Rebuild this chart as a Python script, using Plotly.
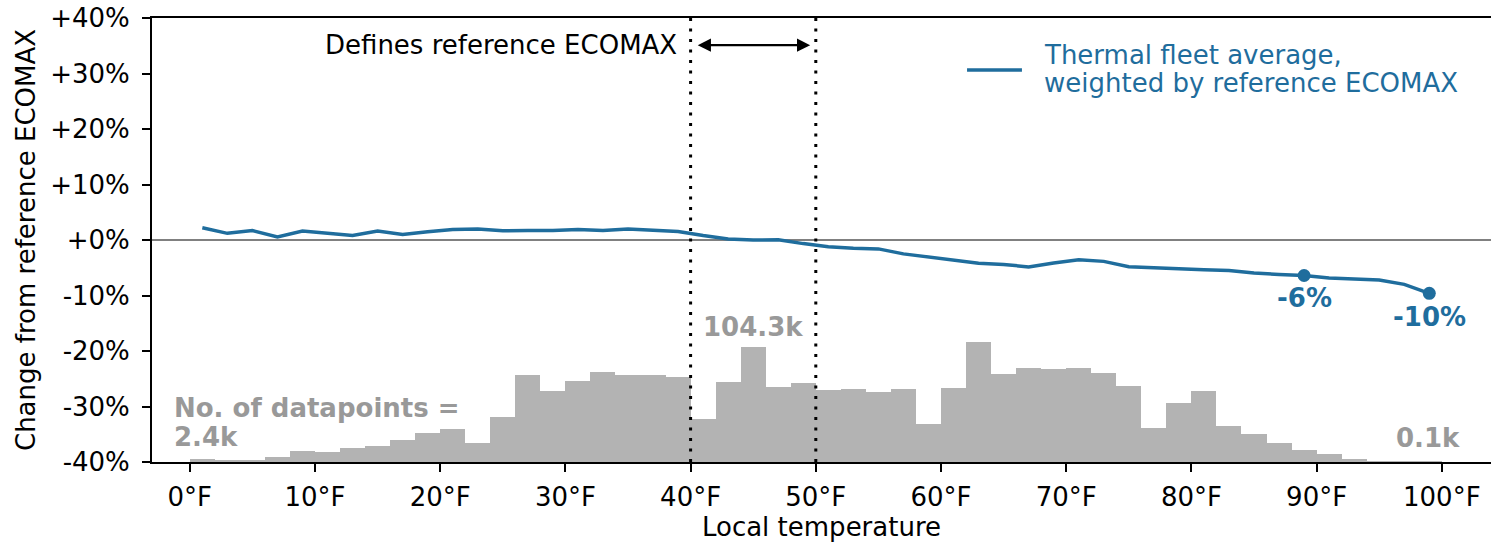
import plotly.graph_objects as go

# ---- data ----
temps = [1, 3, 5, 7, 9, 11, 13, 15, 17, 19, 21, 23, 25, 27, 29, 31, 33, 35, 37, 39,
         41, 43, 45, 47, 49, 51, 53, 55, 57, 59, 61, 63, 65, 67, 69, 71, 73, 75, 77, 79,
         81, 83, 85, 87, 89, 91, 93, 95, 97, 99]
change_pct = [2.2, 1.2, 1.7, 0.55, 1.6, 1.15, 0.8, 1.6, 1.0, 1.5,
              1.9, 2.0, 1.65, 1.7, 1.7, 1.9, 1.7, 2.0, 1.7, 1.55,
              0.8, 0.2, 0.0, 0.05, -0.65, -1.2, -1.5, -1.6, -2.5, -3.05,
              -3.65, -4.2, -4.4, -4.85, -4.15, -3.55, -3.85, -4.8, -5.0, -5.1,
              -5.35, -5.5, -5.95, -6.2, -6.4, -6.85, -7.0, -7.2, -8.0, -9.6]
counts_k = [2.4, 2.2, 2.0, 4.8, 9.8, 9.2, 12.6, 14.8, 19.9, 26.0,
            29.9, 16.9, 41.0, 78.7, 64.5, 73.6, 81.7, 78.7, 78.7, 77.2,
            38.6, 72.4, 104.3, 68.1, 71.2, 65.2, 66.1, 63.4, 66.1, 34.1,
            67.0, 108.3, 79.6, 85.1, 84.2, 85.1, 80.3, 68.5, 30.5, 53.1,
            64.3, 32.9, 25.1, 17.2, 11.2, 7.0, 2.7, 0.5, 0.3, 0.1]
bin_width = 2
ref_low, ref_high = 40, 50
x_ticks = [0, 10, 20, 30, 40, 50, 60, 70, 80, 90, 100]
x_ticktext = ["0°F", "10°F", "20°F", "30°F", "40°F", "50°F", "60°F", "70°F", "80°F", "90°F", "100°F"]
y_ticks = [40, 30, 20, 10, 0, -10, -20, -30, -40]
y_ticktext = ["+40%", "+30%", "+20%", "+10%", "+0%", "-10%", "-20%", "-30%", "-40%"]
marked_temps = [89, 99]
marked_labels = ["-6%", "-10%"]
legend_lines = ["Thermal fleet average,", "weighted by reference ECOMAX"]

BLUE = "#1f6d9d"
GRAY_BAR = "#b3b3b3"
GRAY_TXT = "#999999"
FONT = "DejaVu Sans"
FS = 26

fig = go.Figure()

# histogram of datapoints (hidden axis y)
fig.add_trace(go.Bar(x=temps, y=counts_k, width=bin_width, marker=dict(color=GRAY_BAR, line=dict(width=0)),
                     yaxis="y", xaxis="x", showlegend=False, hoverinfo="skip"))

# main line (visible axis y2)
fig.add_trace(go.Scatter(x=temps, y=change_pct, mode="lines", line=dict(color=BLUE, width=3.5),
                         yaxis="y2", showlegend=False,
                         name="Thermal fleet average, weighted by reference ECOMAX"))

mk_y = [change_pct[temps.index(t)] for t in marked_temps]
fig.add_trace(go.Scatter(x=marked_temps, y=mk_y, mode="markers", marker=dict(color=BLUE, size=13),
                         yaxis="y2", showlegend=False))

shapes = [
    dict(type="line", xref="paper", x0=0, x1=1, yref="y2", y0=0, y1=0,
         line=dict(color="#808080", width=2.2), layer="below"),
    # legend sample line
    dict(type="line", xref="paper", x0=0.6087, x1=0.6497, yref="paper", y0=0.8829, y1=0.8829,
         line=dict(color=BLUE, width=3.5)),
]
for xv in (ref_low, ref_high):
    shapes.append(dict(type="line", xref="x", x0=xv, x1=xv, yref="paper", y0=0, y1=1,
                       line=dict(color="black", width=3, dash="3px,7.5px"), layer="above"))

annotations = [
    dict(x=ref_low, y=35.1, xref="x", yref="y2", text="Defines reference ECOMAX", showarrow=False,
         xanchor="right", xshift=-12, font=dict(family=FONT, size=FS, color="black")),
    dict(x=ref_high - 0.45, y=35.1, ax=ref_low + 0.45, ay=35.1, xref="x", yref="y2", axref="x", ayref="y2",
         text="", showarrow=True, arrowside="end+start", arrowhead=2, arrowsize=1.2, arrowwidth=2.2,
         arrowcolor="black", standoff=0, startstandoff=0, startarrowhead=2, startarrowsize=1.2),
    dict(x=marked_temps[0], y=-10.45, xref="x", yref="y2", text="<b>" + marked_labels[0] + "</b>",
         showarrow=False, font=dict(family=FONT, size=FS, color=BLUE)),
    dict(x=marked_temps[1], y=-13.9, xref="x", yref="y2", text="<b>" + marked_labels[1] + "</b>",
         showarrow=False, font=dict(family=FONT, size=FS, color=BLUE)),
    dict(x=-1.4, y=-30.3, xref="x", yref="y2", text="<b>No. of datapoints =</b>", showarrow=False,
         xanchor="left", font=dict(family=FONT, size=FS, color=GRAY_TXT)),
    dict(x=-1.4, y=-35.5, xref="x", yref="y2", text="<b>2.4k</b>", showarrow=False,
         xanchor="left", font=dict(family=FONT, size=FS, color=GRAY_TXT)),
    dict(x=45, y=-15.7, xref="x", yref="y2", text="<b>104.3k</b>", showarrow=False,
         font=dict(family=FONT, size=FS, color=GRAY_TXT)),
    dict(x=101.6, y=-35.7, xref="x", yref="y2", text="<b>0.1k</b>", showarrow=False,
         xanchor="right", font=dict(family=FONT, size=FS, color=GRAY_TXT)),
    # legend text
    dict(x=0.6650, y=0.9167, xref="paper", yref="paper", text=legend_lines[0], showarrow=False,
         xanchor="left", yanchor="middle", font=dict(family=FONT, size=FS, color=BLUE)),
    dict(x=0.6650, y=0.8536, xref="paper", yref="paper", text=legend_lines[1], showarrow=False,
         xanchor="left", yanchor="middle", font=dict(family=FONT, size=FS, color=BLUE)),
]

fig.update_layout(
    width=1491, height=542,
    margin=dict(l=152, r=0, t=18, b=80),
    paper_bgcolor="white", plot_bgcolor="white",
    font=dict(family=FONT, size=FS, color="black"),
    bargap=0,
    showlegend=False,
    xaxis=dict(range=[-3.02, 103.93], tickvals=x_ticks, ticktext=x_ticktext, showgrid=False, zeroline=False,
               showline=True, linecolor="black", linewidth=2, mirror=True,
               ticks="outside", ticklen=8, tickwidth=2, tickcolor="black", ticklabelstandoff=3,
               automargin=False, ticklabeloverflow="allow",
               title=dict(text="Local temperature", font=dict(size=FS), standoff=9)),
    yaxis=dict(range=[0, 401.8], visible=False, showgrid=False, fixedrange=True),
    yaxis2=dict(range=[-40, 40], overlaying="y", side="left", tickvals=y_ticks, ticktext=y_ticktext,
                showgrid=False, zeroline=False, showline=True, linecolor="black", linewidth=2,
                ticks="outside", ticklen=8, tickwidth=2, tickcolor="black", ticklabelstandoff=7,
                automargin=False, ticklabeloverflow="allow",
                title=dict(text="Change from reference ECOMAX", font=dict(size=FS), standoff=7)),
    shapes=shapes,
    annotations=annotations,
)

# remove the page's default body margin so the figure fills the window exactly
fig.write_html("out.html", config={"displayModeBar": False},
               post_script="document.body.style.margin='0';")
